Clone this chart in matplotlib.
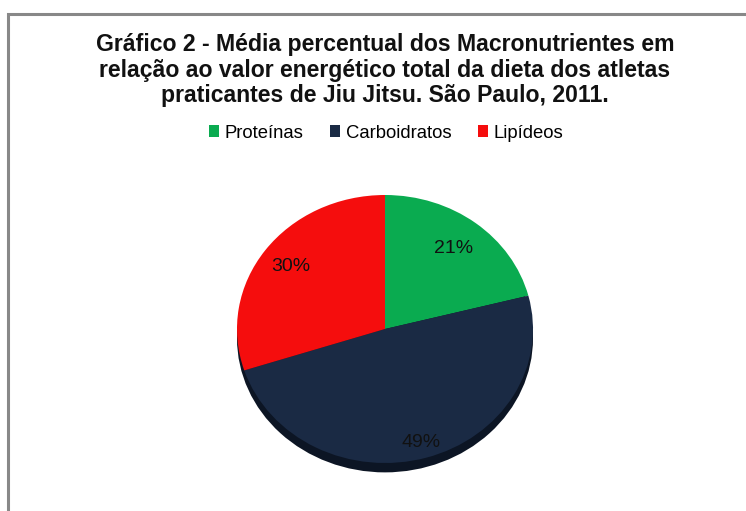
import numpy as np
import matplotlib.pyplot as plt
from matplotlib.patches import Rectangle, Ellipse

plt.rcParams['font.family'] = ['Liberation Sans', 'DejaVu Sans']

labels = ["Proteínas", "Carboidratos", "Lipídeos"]
values = [21, 49, 30]
colors = ["#0aab50", "#1a2a44", "#f50d0d"]
title = ("Gráfico 2 - Média percentual dos Macronutrientes em\n"
         "relação ao valor energético total da dieta dos atletas\n"
         "praticantes de Jiu Jitsu. São Paulo, 2011.")

W, H = 746, 511
fig = plt.figure(figsize=(W / 100, H / 100), dpi=100)
fig.patch.set_facecolor("white")

# outer chart border (only top and left visible)
fig.patches.append(Rectangle((7.5 / W, -0.1), 1.2, 1 - 13.5 / H + 0.1,
                             transform=fig.transFigure, fill=False,
                             edgecolor="#888888", linewidth=2.2))

fig.text(385 / W, 1 - 70 / H, title, ha="center", va="center",
         fontsize=16.6, fontweight="bold", linespacing=1.13, color="#111111")

# pie axes: horizontal radius ~148 px, vertical ~134 px
cx, cy, rx = 385, 329, 148
ry = 134
ax = fig.add_axes([(cx - rx) / W, 1 - (cy + ry) / H, 2 * rx / W, 2 * ry / H])

# bottom 3D rim / shadow
ax.add_patch(Ellipse((0, -0.07), 2.0, 2.0, facecolor="#0c1524",
                     edgecolor="none", zorder=0, clip_on=False))

wedges, texts = ax.pie(values, colors=colors, startangle=90,
                       counterclock=False,
                       wedgeprops={"linewidth": 0})
ax.set_aspect("auto")
ax.set_xlim(-1, 1)
ax.set_ylim(-1, 1)
ax.axis("off")

# percentage labels placed along each wedge's middle angle
label_dist = [0.76, 0.88, 0.79]
for w, v, d in zip(wedges, values, label_dist):
    ang = np.deg2rad((w.theta1 + w.theta2) / 2)
    ax.text(d * np.cos(ang), d * np.sin(ang), f"{v}%", ha="center",
            va="center", fontsize=14, color="#111111")

# legend
handles = [Rectangle((0, 0), 1, 1, facecolor=c) for c in colors]
fig.legend(handles, labels, loc="center", bbox_to_anchor=(386 / W, 1 - 133 / H),
           ncol=3, frameon=False, fontsize=13.3, handlelength=0.55,
           handleheight=0.55, handletextpad=0.3, columnspacing=1.45)

plt.savefig("out.png", dpi=100, facecolor="white")
